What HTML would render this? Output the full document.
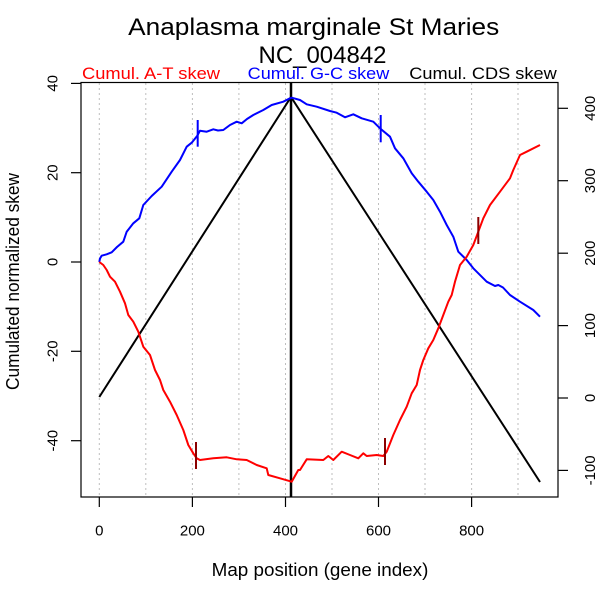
<!DOCTYPE html>
<html>
<head>
<meta charset="utf-8">
<style>
html,body{margin:0;padding:0;background:#fff;}
svg{display:block;}
text{font-family:"Liberation Sans",Arial,sans-serif;}
</style>
</head>
<body>
<svg width="600" height="600" viewBox="0 0 600 600" xmlns="http://www.w3.org/2000/svg">
<rect x="0" y="0" width="600" height="600" fill="#fff"/>

<!-- Title -->
<text x="313.7" y="35" font-size="24" text-anchor="middle" textLength="371" lengthAdjust="spacingAndGlyphs">Anaplasma marginale St Maries</text>
<text x="322.5" y="63" font-size="24" text-anchor="middle" textLength="128" lengthAdjust="spacingAndGlyphs">NC_004842</text>

<!-- Legend labels -->
<text x="82" y="79" font-size="17" fill="#ff0000" textLength="138" lengthAdjust="spacingAndGlyphs">Cumul. A-T skew</text>
<text x="247.7" y="79" font-size="17" fill="#0000ff" textLength="141.6" lengthAdjust="spacingAndGlyphs">Cumul. G-C skew</text>
<text x="409.3" y="79" font-size="17" fill="#000000" textLength="147.4" lengthAdjust="spacingAndGlyphs">Cumul. CDS skew</text>

<!-- Grid lines -->
<g stroke="#bebebe" stroke-width="1" stroke-dasharray="2,3">
<line x1="99.3" y1="83" x2="99.3" y2="497"/>
<line x1="145.8" y1="83" x2="145.8" y2="497"/>
<line x1="192.4" y1="83" x2="192.4" y2="497"/>
<line x1="238.9" y1="83" x2="238.9" y2="497"/>
<line x1="285.5" y1="83" x2="285.5" y2="497"/>
<line x1="332" y1="83" x2="332" y2="497"/>
<line x1="378.5" y1="83" x2="378.5" y2="497"/>
<line x1="425" y1="83" x2="425" y2="497"/>
<line x1="471.6" y1="83" x2="471.6" y2="497"/>
<line x1="518" y1="83" x2="518" y2="497"/>
</g>

<!-- Plot box -->
<rect x="81" y="82.5" width="477" height="414.5" fill="none" stroke="#000" stroke-width="1.2"/>

<!-- Left axis ticks -->
<g stroke="#000" stroke-width="1.2">
<line x1="71" y1="83.4" x2="81" y2="83.4"/>
<line x1="71" y1="172.7" x2="81" y2="172.7"/>
<line x1="71" y1="262" x2="81" y2="262"/>
<line x1="71" y1="351.3" x2="81" y2="351.3"/>
<line x1="71" y1="440.7" x2="81" y2="440.7"/>
<!-- right ticks -->
<line x1="558" y1="108.3" x2="568" y2="108.3"/>
<line x1="558" y1="180.7" x2="568" y2="180.7"/>
<line x1="558" y1="253.2" x2="568" y2="253.2"/>
<line x1="558" y1="325.6" x2="568" y2="325.6"/>
<line x1="558" y1="398" x2="568" y2="398"/>
<line x1="558" y1="470.4" x2="568" y2="470.4"/>
<!-- bottom ticks -->
<line x1="99.3" y1="497" x2="99.3" y2="507"/>
<line x1="192.4" y1="497" x2="192.4" y2="507"/>
<line x1="285.5" y1="497" x2="285.5" y2="507"/>
<line x1="378.5" y1="497" x2="378.5" y2="507"/>
<line x1="471.6" y1="497" x2="471.6" y2="507"/>
</g>

<!-- Left tick labels (rotated) -->
<g font-size="15" text-anchor="middle">
<text transform="translate(57.7,83.4) rotate(-90)">40</text>
<text transform="translate(57.7,172.7) rotate(-90)">20</text>
<text transform="translate(57.7,262) rotate(-90)">0</text>
<text transform="translate(57.7,351.3) rotate(-90)">-20</text>
<text transform="translate(57.7,440.7) rotate(-90)">-40</text>
<!-- right labels -->
<text transform="translate(595,108.3) rotate(-90)">400</text>
<text transform="translate(595,180.7) rotate(-90)">300</text>
<text transform="translate(595,253.2) rotate(-90)">200</text>
<text transform="translate(595,325.6) rotate(-90)">100</text>
<text transform="translate(595,398) rotate(-90)">0</text>
<text transform="translate(595,470.4) rotate(-90)">-100</text>
<!-- bottom labels -->
<text x="99.3" y="535.7">0</text>
<text x="192.4" y="535.7">200</text>
<text x="285.5" y="535.7">400</text>
<text x="378.5" y="535.7">600</text>
<text x="471.6" y="535.7">800</text>
</g>

<!-- Axis labels -->
<text x="320" y="576" font-size="18" text-anchor="middle" textLength="216.7" lengthAdjust="spacingAndGlyphs">Map position (gene index)</text>
<text transform="translate(19,281.5) rotate(-90)" font-size="18" text-anchor="middle" textLength="217" lengthAdjust="spacingAndGlyphs">Cumulated normalized skew</text>

<!-- Black CDS line -->
<polyline fill="none" stroke="#000" stroke-width="2" points="99.3,397 291,97 540,482"/>
<!-- vertical line -->
<line x1="291" y1="82.5" x2="291" y2="497" stroke="#000" stroke-width="2.5"/>

<!-- Blue G-C -->
<polyline fill="none" stroke="#0000ff" stroke-width="2" stroke-linejoin="round" points="99.3,262 100,258.5 101.7,255.7 106.7,254.3 111.7,252.3 117,247 123.3,241.7 126.7,231.7 133.3,223.3 139.3,218.3 143.3,205 151.7,196 161.7,186.7 171.7,171.7 180,160 186.7,146.7 191.7,142.7 197.3,135.7 200,130.7 206.7,131.7 213.3,129.3 218,130.5 223.3,130 230,125 236.7,121.7 241.7,123.3 247,119 253.3,115 263.3,110 271.7,105 283.3,101.7 290,98.3 291.7,97.7 300,100 306.7,104.3 316.7,106.7 330,111 336.7,112.7 345,117.3 353.3,114.3 361.7,118.3 373.3,121.7 380,128.3 390,136.7 395,148.3 403.3,158.3 411.7,173.3 418.3,181.7 426.7,191.7 433.3,200 440,211.7 446.7,225 453.3,236.7 458.3,251.7 466.7,260 473.3,268.3 486.7,281.7 495,286 498.3,285 503,287.5 510,295 520,301.7 533.3,310 540,316.7"/>

<!-- Red A-T -->
<polyline fill="none" stroke="#ff0000" stroke-width="2" stroke-linejoin="round" points="99.3,262 103.3,265 106.7,270 110,276.7 115,281.7 120,291.7 125,303.3 128.3,315 133.3,321.7 138.3,331.7 143.3,346.7 150,355 155,370 160,380 163.3,390 170,401.7 176.7,415 183.3,430 188.3,445 193.3,453.3 196.7,458.3 200,460 213.3,458.3 226.7,457.3 236.7,459.3 246.7,460 256.7,465 266.7,468.3 268.3,475 280,478.3 291.7,481.7 298.3,470 300,470 306.7,459.3 323.3,460 328.3,456 333.3,460 341.7,451.7 350,455 358.3,458.3 363.3,453.3 366.7,456 376.7,455 383.3,456 386.7,451.7 393.3,435 400,420 406.7,406.7 411.7,393.3 416.7,385 420,370 423.3,360 428.3,348.3 433.3,340 438.3,328.3 443.3,315 448.3,301.7 451.7,295 455,281.7 460,265 466.7,256.7 473.3,245 478.3,231.7 483.3,218.3 490,205 500,191.7 510,178.3 513.3,170 520,155 526.7,151.7 540,145"/>

<!-- Origin/terminus tick marks -->
<g stroke-width="2">
<line x1="197.7" y1="120" x2="197.7" y2="146.7" stroke="#0000ff"/>
<line x1="380.7" y1="115" x2="380.7" y2="142.3" stroke="#0000ff"/>
<line x1="196" y1="442" x2="196" y2="469" stroke="#8b0000"/>
<line x1="385" y1="438" x2="385" y2="465" stroke="#8b0000"/>
<line x1="478.3" y1="217" x2="478.3" y2="244" stroke="#8b0000"/>
</g>
</svg>
</body>
</html>
